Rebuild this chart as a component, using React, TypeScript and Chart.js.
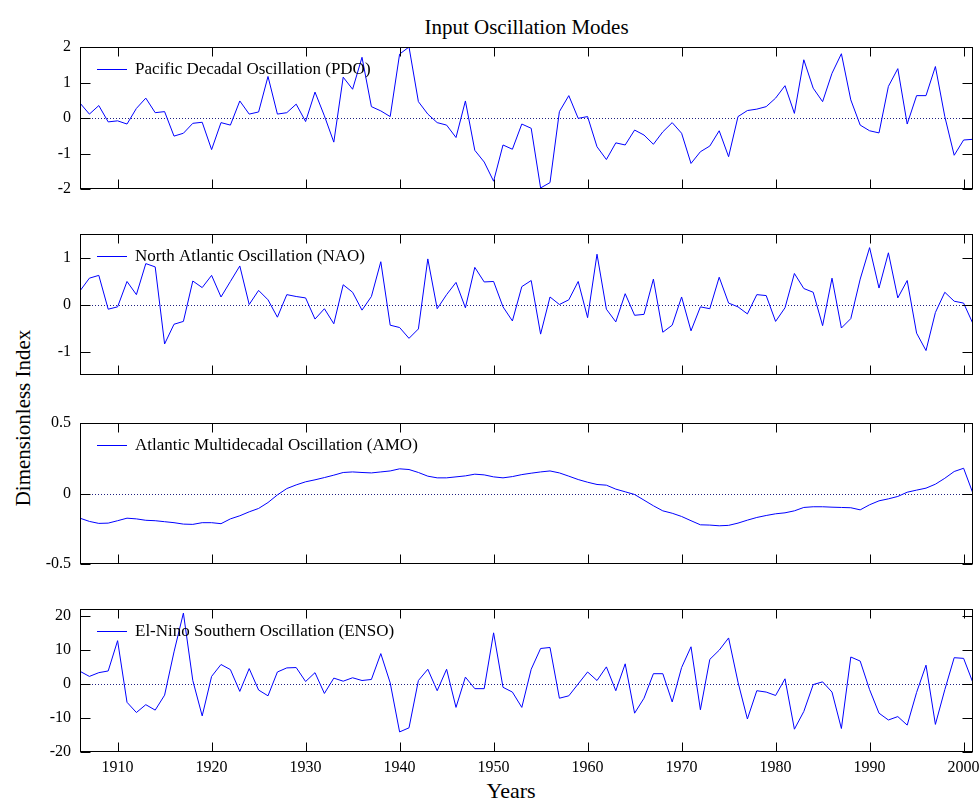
import React, { useEffect, useRef } from "react";
import { Chart, registerables } from "chart.js";

Chart.register(...registerables);

const FONT = "'Liberation Serif', 'Times New Roman', serif";

const firstYear = 1906;
const lastYear = 2001;
const years: number[] = [];
for (let yr = firstYear; yr <= lastYear; yr++) years.push(yr);

const xTickYears = [1910, 1920, 1930, 1940, 1950, 1960, 1970, 1980, 1990, 2000];

const titleText = "Input Oscillation Modes";
const yAxisLabel = "Dimensionless Index";
const xAxisLabel = "Years";

const pdoLabel = "Pacific Decadal Oscillation (PDO)";
const naoLabel = "North Atlantic Oscillation (NAO)";
const amoLabel = "Atlantic Multidecadal Oscillation (AMO)";
const ensoLabel = "El-Nino Southern Oscillation (ENSO)";

const pdoValues = [
  0.42, 0.11, 0.35, -0.11, -0.08, -0.17, 0.27, 0.56, 0.15, 0.18,
  -0.51, -0.43, -0.15, -0.12, -0.89, -0.13, -0.2, 0.48, 0.11, 0.17,
  1.17, 0.11, 0.15, 0.39, -0.1, 0.73, 0.06, -0.68, 1.15, 0.81,
  1.71, 0.32, 0.2, 0.04, 1.8, 2.0, 0.46, 0.11, -0.13, -0.2,
  -0.55, 0.48, -0.91, -1.24, -1.78, -0.76, -0.88, -0.17, -0.29, -1.97,
  -1.82, 0.18, 0.63, -0.01, 0.04, -0.81, -1.17, -0.7, -0.76, -0.34,
  -0.48, -0.74, -0.39, -0.13, -0.43, -1.28, -0.95, -0.79, -0.36, -1.09,
  0.04, 0.21, 0.25, 0.32, 0.56, 0.91, 0.13, 1.64, 0.84, 0.46,
  1.26, 1.81, 0.51, -0.2, -0.36, -0.42, 0.89, 1.39, -0.17, 0.63,
  0.63, 1.45, 0.04, -1.05, -0.62, -0.6,
];

const naoValues = [
  0.29, 0.56, 0.62, -0.1, -0.05, 0.49, 0.21, 0.87, 0.8, -0.84,
  -0.42, -0.36, 0.5, 0.36, 0.62, 0.16, 0.49, 0.82, 0.0, 0.3,
  0.1, -0.27, 0.21, 0.17, 0.14, -0.31, -0.09, -0.41, 0.42, 0.26,
  -0.12, 0.17, 0.91, -0.44, -0.49, -0.72, -0.52, 0.97, -0.09, 0.21,
  0.47, -0.07, 0.79, 0.48, 0.49, -0.05, -0.35, 0.38, 0.51, -0.63,
  0.16, 0.0, 0.1, 0.49, -0.28, 1.07, -0.1, -0.37, 0.23, -0.23,
  -0.21, 0.54, -0.59, -0.44, 0.16, -0.56, -0.05, -0.09, 0.58, 0.03,
  -0.05, -0.2, 0.21, 0.19, -0.36, -0.07, 0.66, 0.34, 0.26, -0.45,
  0.56, -0.5, -0.3, 0.54, 1.21, 0.35, 1.1, 0.14, 0.51, -0.61,
  -0.98, -0.17, 0.26, 0.07, 0.03, -0.41,
];

const amoValues = [
  -0.175, -0.198, -0.212, -0.21, -0.193, -0.175, -0.18, -0.19, -0.193, -0.2,
  -0.207, -0.217, -0.219, -0.207, -0.207, -0.214, -0.18, -0.158, -0.13, -0.106,
  -0.064, -0.01, 0.035, 0.061, 0.083, 0.097, 0.113, 0.13, 0.149, 0.153,
  0.149, 0.146, 0.153, 0.16, 0.175, 0.17, 0.149, 0.123, 0.111, 0.111,
  0.118, 0.125, 0.137, 0.132, 0.118, 0.111, 0.12, 0.134, 0.144, 0.153,
  0.16, 0.146, 0.123, 0.099, 0.08, 0.064, 0.059, 0.031, 0.012, -0.007,
  -0.047, -0.087, -0.123, -0.14, -0.163, -0.193, -0.222, -0.224, -0.229, -0.226,
  -0.21, -0.189, -0.17, -0.156, -0.144, -0.137, -0.123, -0.099, -0.094, -0.094,
  -0.097, -0.099, -0.101, -0.116, -0.08, -0.052, -0.038, -0.021, 0.009, 0.024,
  0.038, 0.066, 0.108, 0.156, 0.179, 0.0,
];

const ensoValues = [
  3.7, 2.2, 3.3, 3.8, 12.7, -5.4, -8.4, -6.1, -7.7, -3.3,
  9.4, 20.8, 1.0, -9.4, 2.2, 5.7, 4.2, -2.2, 4.5, -1.8,
  -3.5, 3.5, 4.7, 4.8, 0.7, 3.3, -2.8, 1.7, 0.8, 1.8,
  1.0, 1.3, 8.9, 0.3, -14.1, -12.9, 1.0, 4.3, -2.0, 4.3,
  -6.9, 2.0, -1.4, -1.4, 15.0, -1.0, -2.4, -6.9, 4.3, 10.4,
  10.7, -4.2, -3.5, 0.0, 3.5, 1.0, 5.0, -2.0, 5.9, -8.6,
  -4.2, 3.0, 3.0, -5.3, 4.8, 10.9, -7.6, 7.2, 9.9, 13.5,
  0.5, -10.3, -2.0, -2.4, -3.4, 1.5, -13.3, -8.1, -0.2, 0.6,
  -2.4, -13.1, 7.9, 6.7, -1.7, -8.6, -10.6, -9.6, -12.1, -2.5,
  5.5, -11.9, -1.7, 7.7, 7.5, 0.3,
];

const pdoTicks = [-2, -1, 0, 1, 2];
const naoTicks = [-1, 0, 1];
const amoTicks = [-0.5, 0, 0.5];
const ensoTicks = [-20, -10, 0, 10, 20];

const pdoRange = [-2, 2];
const naoRange = [-1.5, 1.5];
const amoRange = [-0.5, 0.5];
const ensoRange = [-20, 22];

const LINE_COLOR = "#0000ff";
const ZERO_COLOR = "#202080";
const X_TICK_LEN = 9;
const Y_TICK_LEN = 10;

type PanelProps = {
  label: string;
  values: number[];
  yTicks: number[];
  range: number[];
  areaTop: number;
  areaHeight: number;
  showX: boolean;
};

function Panel({ label, values, yTicks, range, areaTop, areaHeight, showX }: PanelProps) {
  const ref = useRef<HTMLCanvasElement>(null);
  const PAD = 12;
  const xAxisH = showX ? 30 : 0;
  const canvasTop = areaTop - PAD;
  const canvasH = PAD + areaHeight + (showX ? xAxisH : PAD);

  useEffect(() => {
    const framePlugin = {
      id: "frame",
      beforeDatasetsDraw(chart: any) {
        const { ctx, chartArea, scales } = chart;
        const y0 = Math.round(scales.y.getPixelForValue(0)) + 0.5;
        ctx.save();
        ctx.strokeStyle = ZERO_COLOR;
        ctx.lineWidth = 1;
        ctx.setLineDash([1, 2]);
        ctx.beginPath();
        ctx.moveTo(chartArea.left, y0);
        ctx.lineTo(chartArea.right, y0);
        ctx.stroke();
        ctx.restore();
      },
      afterDraw(chart: any) {
        const { ctx, chartArea, scales } = chart;
        const { left, right, top, bottom } = chartArea;
        const L = Math.round(left) + 0.5;
        const R = Math.round(right) - 0.5;
        const T = Math.round(top) + 0.5;
        const B = Math.round(bottom) - 0.5;
        ctx.save();
        ctx.strokeStyle = "#000";
        ctx.lineWidth = 1;
        ctx.strokeRect(L, T, R - L, B - T);
        ctx.beginPath();
        xTickYears.forEach((v) => {
          const px = Math.round(scales.x.getPixelForValue(v)) + 0.5;
          ctx.moveTo(px, T);
          ctx.lineTo(px, T + X_TICK_LEN);
          ctx.moveTo(px, B);
          ctx.lineTo(px, B - X_TICK_LEN);
        });
        yTicks.forEach((v) => {
          const py = Math.round(scales.y.getPixelForValue(v)) + 0.5;
          ctx.moveTo(L, py);
          ctx.lineTo(L + Y_TICK_LEN, py);
          ctx.moveTo(R, py);
          ctx.lineTo(R - Y_TICK_LEN, py);
        });
        ctx.stroke();
        const ly = Math.round(top + 21.5) + 0.5;
        ctx.strokeStyle = LINE_COLOR;
        ctx.beginPath();
        ctx.moveTo(left + 17, ly);
        ctx.lineTo(left + 47, ly);
        ctx.stroke();
        ctx.fillStyle = "#000";
        ctx.font = `17px ${FONT}`;
        ctx.textBaseline = "middle";
        ctx.textAlign = "left";
        ctx.fillText(label, left + 55, ly);
        ctx.restore();
      },
    };

    const chart = new Chart(ref.current as HTMLCanvasElement, {
      type: "line",
      data: {
        datasets: [
          {
            label,
            data: years.map((x, i) => ({ x, y: values[i] })),
            borderColor: LINE_COLOR,
            borderWidth: 1,
            pointRadius: 0,
            tension: 0,
            fill: false,
          },
        ],
      },
      options: {
        responsive: false,
        animation: false,
        events: [],
        layout: { padding: { top: PAD, bottom: showX ? 0 : PAD, left: 0, right: 7 } },
        plugins: {
          legend: { display: false },
          tooltip: { enabled: false },
          title: { display: false },
        },
        scales: {
          x: {
            type: "linear",
            min: firstYear,
            max: lastYear,
            afterBuildTicks: (s: any) => {
              s.ticks = xTickYears.map((v) => ({ value: v }));
            },
            afterFit: (s: any) => {
              s.height = xAxisH;
              s.paddingLeft = 0;
              s.paddingRight = 0;
            },
            grid: { display: false, drawTicks: false },
            border: { display: false },
            ticks: {
              display: showX,
              maxRotation: 0,
              autoSkip: false,
              padding: 6,
              color: "#000",
              font: { family: FONT, size: 16 },
              callback: (v: any) => String(v),
            },
          },
          y: {
            type: "linear",
            min: range[0],
            max: range[1],
            afterBuildTicks: (s: any) => {
              s.ticks = yTicks.map((v) => ({ value: v }));
            },
            afterFit: (s: any) => {
              s.width = 80;
              s.paddingTop = 0;
              s.paddingBottom = 0;
            },
            grid: { display: false, drawTicks: false },
            border: { display: false },
            ticks: {
              padding: 9,
              color: "#000",
              font: { family: FONT, size: 16 },
              callback: (v: any) => String(v),
            },
          },
        },
      },
      plugins: [framePlugin],
    } as any);
    return () => chart.destroy();
  }, []);

  return (
    <canvas
      ref={ref}
      width={980}
      height={canvasH}
      style={{ position: "absolute", left: 0, top: canvasTop, width: 980, height: canvasH }}
    />
  );
}

export default function App() {
  return (
    <div
      style={{
        position: "fixed",
        left: 0,
        top: 0,
        width: 980,
        height: 807,
        background: "#fff",
        fontFamily: FONT,
        color: "#000",
        overflow: "hidden",
      }}
    >
      <div
        style={{
          position: "absolute",
          left: 80,
          width: 893,
          top: 15,
          textAlign: "center",
          fontSize: 21,
          lineHeight: "24px",
        }}
      >
        {titleText}
      </div>
      <div
        style={{
          position: "absolute",
          left: 23,
          top: 418,
          transform: "translate(-50%, -50%) rotate(-90deg)",
          whiteSpace: "nowrap",
          fontSize: 21,
          lineHeight: "24px",
        }}
      >
        {yAxisLabel}
      </div>
      <div
        style={{
          position: "absolute",
          left: 511,
          top: 791,
          transform: "translate(-50%, -50%)",
          whiteSpace: "nowrap",
          fontSize: 22,
          lineHeight: "24px",
        }}
      >
        {xAxisLabel}
      </div>
      <Panel label={pdoLabel} values={pdoValues} yTicks={pdoTicks} range={pdoRange} areaTop={47} areaHeight={142} showX={false} />
      <Panel label={naoLabel} values={naoValues} yTicks={naoTicks} range={naoRange} areaTop={234} areaHeight={141} showX={false} />
      <Panel label={amoLabel} values={amoValues} yTicks={amoTicks} range={amoRange} areaTop={423} areaHeight={141} showX={false} />
      <Panel label={ensoLabel} values={ensoValues} yTicks={ensoTicks} range={ensoRange} areaTop={609} areaHeight={143} showX={true} />
    </div>
  );
}
